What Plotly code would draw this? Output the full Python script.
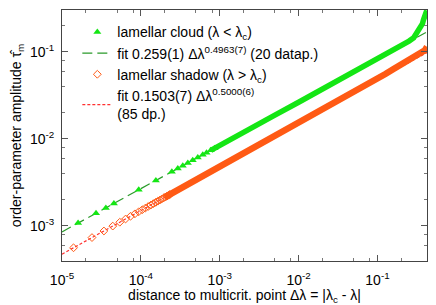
import plotly.graph_objects as go

# ---------------- data ----------------
cloud_sparse_x = [1.6e-5, 2.7e-5, 3.6e-5, 4.55e-5, 9.4e-5, 1.55e-4, 2.47e-4, 2.94e-4,
                  3.4e-4, 3.94e-4, 4.55e-4, 5.27e-4, 6.1e-4, 6.8e-4, 7.7e-4, 8.6e-4]
cloud_sparse_y = [1.08e-3, 1.40e-3, 1.61e-3, 1.81e-3, 2.60e-3, 3.33e-3, 4.20e-3, 4.57e-3,
                  4.92e-3, 5.29e-3, 5.69e-3, 6.11e-3, 6.57e-3, 6.94e-3, 7.38e-3, 7.80e-3]

cloud_dense_x = [7.7e-4, 1e-3, 2e-3, 5e-3, 1e-2, 2e-2, 3.16e-2, 5e-2, 6.3e-2, 0.08, 0.1,
                 0.126, 0.158, 0.2, 0.251, 0.288, 0.324, 0.351, 0.372, 0.383, 0.398,
                 0.412, 0.422]
cloud_dense_y = [7.38e-3, 8.45e-3, 1.186e-2, 1.868e-2, 2.63e-2, 3.72e-2, 4.60e-2, 5.80e-2,
                 6.50e-2, 7.30e-2, 8.15e-2, 9.15e-2, 0.1035, 0.117, 0.1325, 0.1445, 0.167,
                 0.188, 0.21, 0.232, 0.258, 0.28, 0.298]

shadow_sparse_x = [1.4e-5, 2.4e-5, 3.4e-5, 4.4e-5, 5.4e-5, 6.4e-5, 7.4e-5, 8.4e-5, 9.4e-5,
                   1.04e-4, 1.14e-4, 1.24e-4, 1.34e-4, 1.44e-4, 1.54e-4, 1.64e-4, 1.74e-4,
                   1.84e-4, 1.94e-4, 2.04e-4, 2.14e-4, 2.24e-4, 2.34e-4]
shadow_sparse_y = [5.62e-4, 7.36e-4, 8.76e-4, 9.97e-4, 1.104e-3, 1.202e-3, 1.293e-3,
                   1.378e-3, 1.457e-3, 1.533e-3, 1.605e-3, 1.674e-3, 1.740e-3, 1.804e-3,
                   1.865e-3, 1.925e-3, 1.983e-3, 2.039e-3, 2.093e-3, 2.147e-3, 2.199e-3,
                   2.250e-3, 2.299e-3]

shadow_dense_x = [2.0e-4, 3e-4, 5e-4, 1e-3, 2e-3, 5e-3, 1e-2, 2e-2, 3.16e-2, 5e-2, 0.08,
                  0.1, 0.126, 0.158, 0.2, 0.251, 0.3, 0.35, 0.4, 0.425]
shadow_dense_y = [2.126e-3, 2.603e-3, 3.361e-3, 4.75e-3, 6.72e-3, 1.063e-2, 1.503e-2,
                  2.126e-2, 2.68e-2, 3.38e-2, 4.30e-2, 4.82e-2, 5.55e-2, 6.28e-2, 7.15e-2,
                  8.10e-2, 8.85e-2, 9.60e-2, 0.104, 0.114]

fit_cloud_x = [1e-5, 0.425]
fit_cloud_y = [8.55e-4, 0.1694]
fit_shadow_x = [1e-5, 0.425]
fit_shadow_y = [4.75e-4, 0.098]

x_tickvals = [1e-5, 1e-4, 1e-3, 1e-2, 1e-1]
x_ticktext = ["10<sup>-5</sup>", "10<sup>-4</sup>", "10<sup>-3</sup>", "10<sup>-2</sup>", "10<sup>-1</sup>"]
y_tickvals = [1e-3, 1e-2, 1e-1]
y_ticktext = ["10<sup>-3</sup>", "10<sup>-2</sup>", "10<sup>-1</sup>"]

x_minor = [m * 10.0 ** e for e in range(-5, 0) for m in (2, 5, 8)] + [0.2]
y_minor = [m * 10.0 ** e for e in range(-4, 0) for m in (2, 4, 6, 8)] + [0.2]

GREEN = "#14e614"
FITGREEN = "#2a9a2a"
ORANGE = "#ff5a14"
FITRED = "#ff3030"

fig = go.Figure()

fig.add_trace(go.Scatter(x=fit_cloud_x, y=fit_cloud_y, mode="lines",
                         line=dict(color=FITGREEN, width=1.2, dash="10px,5px"),
                         showlegend=False))
fig.add_trace(go.Scatter(x=fit_shadow_x, y=fit_shadow_y, mode="lines",
                         line=dict(color=FITRED, width=1.2, dash="3px,2px"),
                         showlegend=False))

fig.add_trace(go.Scatter(x=cloud_dense_x, y=cloud_dense_y, mode="lines",
                         line=dict(color=GREEN, width=5.5), showlegend=False))
fig.add_trace(go.Scatter(x=cloud_sparse_x, y=cloud_sparse_y, mode="markers",
                         marker=dict(symbol="triangle-up", size=7, color=GREEN),
                         name="lamellar cloud (λ < λ<sub>c</sub>)", legendrank=1))
fig.add_trace(go.Scatter(x=shadow_dense_x, y=shadow_dense_y, mode="lines",
                         line=dict(color=ORANGE, width=6.5), showlegend=False))
fig.add_trace(go.Scatter(x=shadow_sparse_x, y=shadow_sparse_y, mode="markers",
                         marker=dict(symbol="diamond-open", size=6, color=ORANGE,
                                     line=dict(width=1)),
                         name="lamellar shadow (λ > λ<sub>c</sub>)", legendrank=3))

# legend-only entries for the fits
fig.add_trace(go.Scatter(x=[None], y=[None], mode="lines",
                         line=dict(color=FITGREEN, width=1.2, dash="10px,5px"),
                         name="fit 0.259(1) Δλ<sup>0.4963(7)</sup> (20 datap.)", legendrank=2))
fig.add_trace(go.Scatter(x=[None], y=[None], mode="lines",
                         line=dict(color=FITRED, width=1.2, dash="3px,2px"),
                         name="fit 0.1503(7) Δλ<sup>0.5000(6)</sup><br>(85 dp.)", legendrank=4))

axis_common = dict(showgrid=False, zeroline=False, showline=True, linecolor="#444",
                   linewidth=1, mirror="ticks", ticks="inside", ticklen=6,
                   tickcolor="#555", tickfont=dict(size=14, color="#000"),
                   automargin=False)

fig.update_xaxes(type="log", range=[-5, -0.372], tickmode="array",
                 tickvals=x_tickvals, ticktext=x_ticktext, ticklabelstandoff=6,
                 minor=dict(tickmode="array", tickvals=x_minor, ticks="inside",
                            ticklen=3, tickcolor="#777"),
                 title=dict(text="distance to multicrit. point Δλ = |λ<sub>c</sub> - λ|",
                            font=dict(size=14, color="#000"), standoff=1),
                 **axis_common)
fig.update_yaxes(type="log", range=[-3.402, -0.521], tickmode="array",
                 tickvals=y_tickvals, ticktext=y_ticktext, ticklabelstandoff=4,
                 minor=dict(tickmode="array", tickvals=y_minor, ticks="inside",
                            ticklen=3, tickcolor="#777"),
                 title=dict(text="order-parameter amplitude τ̂<sub>m</sub>",
                            font=dict(size=14, color="#000"), standoff=8),
                 **axis_common)

# the page body has an 8px margin; the figure is sized to fill the rest of the window
fig.update_layout(
    width=428, height=297,
    margin=dict(l=54, r=9, t=2, b=44),
    paper_bgcolor="white", plot_bgcolor="white",
    font=dict(family="Liberation Sans, Arial, sans-serif", size=14, color="#000"),
    showlegend=True,
    legend=dict(x=0.042, y=0.975, xanchor="left", yanchor="top",
                bgcolor="rgba(0,0,0,0)", borderwidth=0,
                font=dict(size=14, color="#000"), tracegroupgap=0,
                traceorder="normal"),
)

fig.write_html("out.html")
